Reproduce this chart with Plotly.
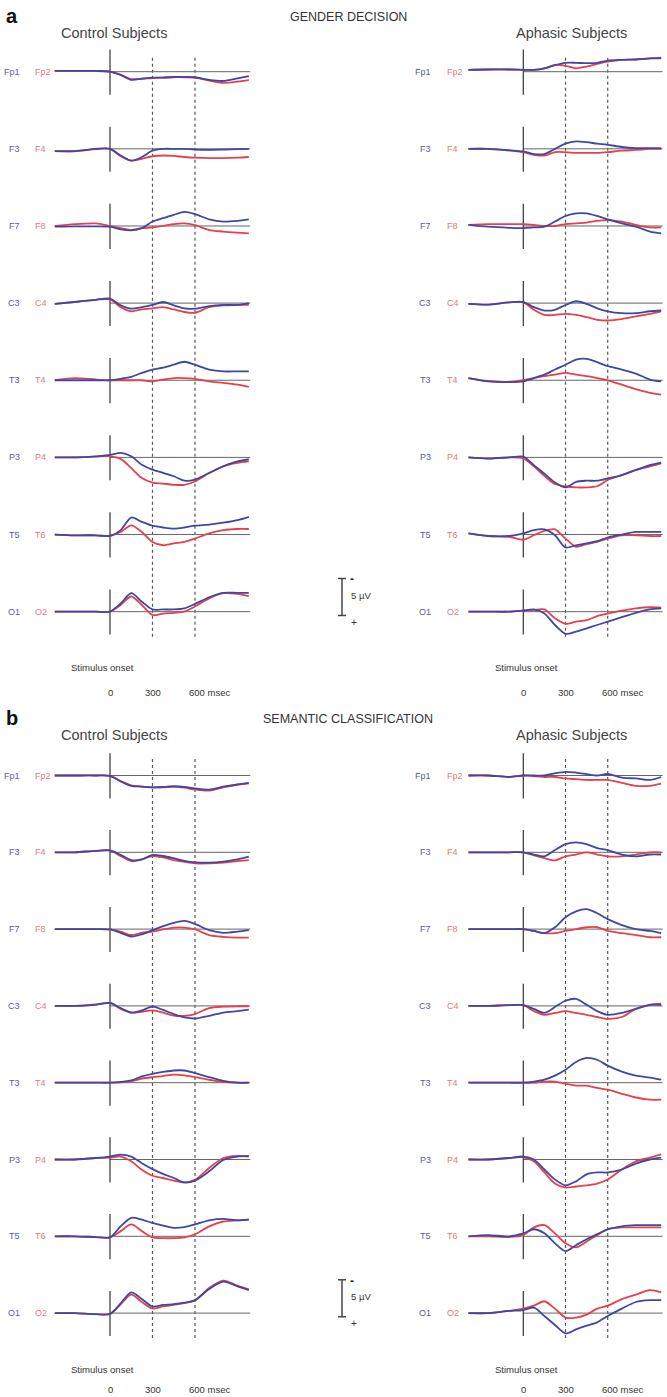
import plotly.graph_objects as go

W, H = 667, 1397

# ---------------- data ----------------
times = [-390, -250, -100, 0, 75, 150, 225, 300, 375, 450, 525, 600, 700, 800, 900, 980]
left_sites = ["Fp1", "F3", "F7", "C3", "T3", "P3", "T5", "O1"]
right_sites = ["Fp2", "F4", "F8", "C4", "T4", "P4", "T6", "O2"]
time_ticks = ["0", "300", "600 msec"]
tick_times = [0, 300, 600]

# values in microvolts (negative plotted upward)
gd_ctrl_left = [
    [-0.1, -0.1, -0.1, 0, 0.45, 1.1, 0.95, 0.8, 0.8, 0.7, 0.7, 0.75, 1.1, 1.25, 0.9, 0.6],
    [0.3, 0.3, 0, 0, 0.9, 1.6, 1.1, 0.25, 0, 0, 0, 0.1, 0.15, 0.1, 0.05, 0],
    [0.1, 0.05, 0.05, 0.1, 0.45, 0.6, 0.3, -0.6, -1.05, -1.5, -1.9, -1.6, -0.9, -0.6, -0.7, -0.9],
    [0.1, -0.15, -0.45, -0.6, 0.3, 0.75, 0.55, 0.25, -0.15, 0.3, 0.7, 0.75, 0.4, 0.25, 0.25, 0],
    [0, 0, 0, 0, -0.2, -0.45, -1.0, -1.45, -1.7, -2.1, -2.5, -2.1, -1.45, -1.2, -1.2, -1.2],
    [0, 0, -0.15, -0.35, -0.6, -0.15, 1.0, 1.65, 2.1, 2.55, 3.15, 3.0, 2.1, 1.2, 0.55, 0.25],
    [0, 0.1, 0.1, 0.2, -0.6, -2.3, -1.7, -1.2, -0.95, -0.8, -0.95, -1.2, -1.35, -1.6, -1.95, -2.4],
    [0, 0, 0, 0, -1.1, -2.5, -1.35, -0.3, -0.3, -0.3, -0.45, -1.05, -1.95, -2.55, -2.55, -2.55],
]
gd_ctrl_right = [
    [-0.1, -0.1, -0.1, 0, 0.4, 1.0, 0.95, 0.85, 0.8, 0.75, 0.75, 0.8, 1.2, 1.5, 1.35, 1.15],
    [0.3, 0.35, 0.05, 0, 1.0, 1.6, 1.35, 1.0, 0.9, 0.95, 1.1, 1.2, 1.25, 1.25, 1.2, 1.1],
    [0, -0.25, -0.35, 0, 0.3, 0.55, 0.3, 0.2, 0, -0.25, -0.35, -0.1, 0.55, 0.75, 0.9, 1.0],
    [0.1, -0.15, -0.45, -0.5, 0.55, 1.1, 0.85, 0.7, 0.55, 0.85, 1.2, 1.3, 0.55, 0.3, 0.25, 0.25],
    [0, -0.3, -0.1, 0, 0, 0, 0, 0.15, -0.1, -0.3, -0.3, -0.2, 0.15, 0.35, 0.6, 0.9],
    [0, 0, -0.1, -0.15, 0.2, 1.45, 2.8, 3.4, 3.55, 3.7, 3.7, 3.25, 2.1, 1.2, 0.75, 0.55],
    [0, 0.1, 0.1, 0.15, -0.35, -1.25, -0.35, 1.0, 1.45, 1.2, 1.0, 0.55, -0.15, -0.6, -0.75, -0.75],
    [0, 0, 0, 0, -0.9, -2.05, -0.9, 0.45, 0.25, 0.15, 0, -0.7, -1.8, -2.5, -2.4, -2.1],
]
gd_aph_left = [
    [-0.25, -0.3, -0.3, -0.25, -0.25, -0.45, -0.9, -1.2, -1.2, -1.15, -1.2, -1.5, -1.6, -1.65, -1.8, -1.8],
    [0, 0, 0.2, 0.35, 0.7, 0.7, 0, -0.7, -1.0, -0.9, -0.7, -0.55, -0.25, -0.1, -0.1, -0.1],
    [-0.15, 0.1, 0.25, 0.3, 0.2, 0.1, -0.6, -1.35, -1.7, -1.7, -1.35, -0.9, -0.35, 0.1, 0.75, 1.0],
    [0.1, 0.2, -0.1, -0.15, 0.55, 1.0, 0.9, 0.25, -0.25, 0.1, 0.7, 1.1, 1.35, 1.35, 1.1, 1.0],
    [-0.3, 0.15, 0.25, 0.15, -0.3, -0.75, -1.45, -2.1, -2.8, -2.9, -2.45, -1.9, -1.45, -0.9, -0.1, 0.15],
    [0, 0.15, 0, -0.1, 1.05, 2.2, 3.4, 4.05, 3.3, 3.15, 3.15, 2.85, 2.4, 1.7, 1.05, 0.7],
    [-0.15, 0.2, 0.2, -0.15, -0.6, -0.7, 0.1, 1.75, 1.45, 1.2, 0.9, 0.4, 0, -0.35, -0.35, -0.35],
    [0, 0, 0, -0.15, -0.3, 0.25, 1.8, 3.0, 2.7, 2.25, 1.8, 1.35, 0.75, 0.15, -0.3, -0.45],
]
gd_aph_right = [
    [-0.25, -0.3, -0.3, -0.25, -0.25, -0.45, -0.9, -0.8, -0.45, -0.7, -1.05, -1.35, -1.6, -1.65, -1.8, -1.9],
    [0, 0, 0.2, 0.45, 0.8, 0.9, 0.45, 0.45, 0.55, 0.55, 0.55, 0.45, 0.25, 0.15, 0, 0],
    [-0.15, -0.25, -0.25, -0.25, -0.15, 0, 0, -0.25, -0.35, -0.45, -0.7, -0.8, -0.6, -0.15, 0.2, 0.2],
    [0.1, 0.2, -0.1, -0.1, 0.9, 1.6, 1.6, 1.45, 1.6, 1.9, 2.25, 2.35, 2.15, 1.8, 1.45, 1.1],
    [-0.3, 0.1, 0.2, 0, -0.3, -0.55, -0.75, -1.0, -0.75, -0.55, -0.3, 0, 0.6, 1.2, 1.7, 1.95],
    [0, 0.15, 0, 0.15, 1.2, 2.5, 3.6, 3.9, 4.05, 4.05, 3.9, 3.05, 2.4, 1.7, 1.2, 0.8],
    [-0.15, 0.2, 0.3, 0.7, 0.1, -0.5, -0.7, 0.55, 1.65, 1.3, 1.0, 0.55, 0.1, 0.1, 0.2, 0.2],
    [0, 0, 0, -0.15, -0.25, -0.3, 0.9, 1.65, 1.35, 1.15, 0.6, 0.25, -0.15, -0.45, -0.6, -0.55],
]
sc_ctrl_left = [
    [0, 0, 0, 0.05, 0.8, 1.4, 1.5, 1.6, 1.55, 1.45, 1.55, 1.75, 1.9, 1.5, 1.2, 1.0],
    [0, 0, -0.2, -0.25, 0.35, 1.05, 0.95, 0.35, 0.5, 0.8, 1.15, 1.35, 1.4, 1.25, 0.95, 0.6],
    [0, 0, 0, 0.05, 0.5, 1.0, 0.7, 0.15, -0.4, -0.85, -1.1, -0.7, 0.15, 0.5, 0.35, 0.15],
    [0, 0, -0.15, -0.4, 0.3, 0.9, 0.6, 0.1, 0.55, 1.1, 1.55, 1.7, 1.35, 0.9, 0.7, 0.5],
    [0, 0, 0, 0, -0.1, -0.3, -0.85, -1.2, -1.45, -1.65, -1.65, -1.3, -0.75, -0.25, 0, 0],
    [0, 0, -0.2, -0.4, -0.65, -0.4, 0.5, 1.3, 1.95, 2.5, 3.1, 2.85, 1.6, 0.05, -0.4, -0.5],
    [0, 0, 0.1, 0.15, -1.35, -2.5, -2.25, -1.8, -1.45, -1.15, -1.25, -1.6, -2.15, -2.35, -2.15, -2.25],
    [0, 0, 0.15, 0.1, -1.3, -2.8, -1.9, -0.9, -1.1, -1.2, -1.4, -1.75, -3.25, -4.25, -3.6, -3.1],
]
sc_ctrl_right = [
    [0, 0, 0, 0.05, 0.75, 1.35, 1.5, 1.6, 1.6, 1.5, 1.65, 1.9, 2.05, 1.6, 1.25, 1.05],
    [0, 0, -0.2, -0.25, 0.5, 1.2, 0.95, 0.5, 0.7, 1.05, 1.3, 1.5, 1.5, 1.4, 1.2, 1.05],
    [0, 0, 0, 0.05, 0.35, 0.8, 0.5, 0.35, 0.05, -0.2, -0.2, 0.05, 0.8, 1.05, 1.15, 1.15],
    [0, 0, -0.2, -0.4, 0.4, 0.9, 0.8, 0.6, 0.9, 1.3, 1.35, 1.1, 0.3, 0.1, 0.05, 0.05],
    [0, 0, 0, 0, -0.05, -0.2, -0.55, -0.75, -0.9, -1.1, -1.0, -0.75, -0.4, -0.1, 0, 0],
    [0, 0, -0.2, -0.25, -0.4, 0.25, 1.4, 2.2, 2.5, 2.85, 3.1, 2.75, 1.15, -0.2, -0.5, -0.4],
    [0, 0, 0.1, 0.15, -0.7, -1.6, -0.7, 0.15, 0.25, 0.25, 0.15, -0.25, -1.35, -2.0, -2.15, -2.25],
    [0, 0, 0.15, 0.1, -1.2, -2.5, -1.5, -0.6, -0.9, -1.1, -1.35, -1.7, -3.4, -4.4, -3.7, -3.2],
]
sc_aph_left = [
    [0, 0, 0.2, 0, 0, 0, -0.3, -0.5, -0.4, -0.2, 0, -0.2, 0.3, 0.4, 0.6, 0.2],
    [0, 0, 0, 0, 0.3, 0.55, -0.3, -1.1, -1.35, -1.1, -0.55, -0.3, 0.3, 0.55, 0.3, 0.3],
    [0, 0, 0, 0, 0.25, 0.55, -0.25, -1.6, -2.4, -2.7, -2.15, -1.35, -0.55, 0, 0.25, 0.55],
    [0, 0, -0.1, -0.1, 0.4, 0.95, 0.15, -0.7, -0.95, -0.15, 0.7, 1.2, 0.95, 0.4, -0.15, -0.15],
    [0, 0, 0, 0, -0.15, -0.4, -0.95, -1.75, -2.8, -3.35, -3.1, -2.3, -1.5, -0.95, -0.7, -0.4],
    [0, 0, -0.2, -0.4, 0, 1.35, 2.7, 3.5, 2.95, 2.0, 1.75, 1.75, 1.35, 0.55, 0, -0.25],
    [0, -0.15, 0, -0.4, -0.95, -0.4, 0.95, 2.0, 1.2, 0.4, -0.3, -0.95, -1.35, -1.5, -1.5, -1.5],
    [0, 0, -0.3, -0.4, -0.75, 0.4, 1.6, 2.75, 2.2, 1.7, 1.25, 0.4, -0.6, -1.5, -1.75, -1.75],
]
sc_aph_right = [
    [0, 0, 0.2, 0, 0.1, 0.2, 0.2, 0.4, 0.5, 0.6, 0.6, 0.6, 1.0, 1.4, 1.4, 1.1],
    [0, 0, 0, 0, 0.4, 0.8, 1.1, 0.55, 0.3, 0, 0.3, 0.55, 0.55, 0.3, 0, 0],
    [0, 0, 0, 0, 0.25, 0.55, 0.55, 0.25, 0, -0.25, -0.25, 0.25, 0.55, 0.8, 1.1, 1.1],
    [0, 0, -0.1, -0.1, 0.7, 1.2, 0.95, 0.7, 0.95, 1.2, 1.5, 1.75, 1.5, 0.4, -0.15, -0.3],
    [0, 0, 0, 0, 0, -0.15, -0.15, 0.15, 0.4, 0.4, 0.7, 0.95, 1.5, 2.0, 2.3, 2.3],
    [0, 0, -0.2, -0.3, 0.25, 1.75, 3.25, 3.8, 3.65, 3.5, 3.25, 2.7, 1.35, 0.25, -0.25, -0.7],
    [0, 0, 0.1, -0.15, -1.2, -1.5, -0.4, 0.95, 1.5, 0.7, -0.15, -0.95, -1.2, -1.2, -1.2, -1.2],
    [0, 0, -0.3, -0.6, -1.0, -1.6, -0.6, 0.6, 0.6, 0.2, -0.6, -1.0, -1.9, -2.5, -3.1, -2.8],
]

scale_bar_uv = 5

# ---------------- layout helpers ----------------
BLUE = "#3f47a3"
RED = "#e5404c"
FONT = "Liberation Sans, Arial, sans-serif"

def px(x):
    return x / W

def py(y):
    return 1 - y / H

PX_PER_UV = 7.4
HALF_PX = 38
R = HALF_PX / PX_PER_UV

panels = [
    dict(key="a", title="GENDER DECISION", top=0, row0=71.7, step=77.14, msec=692,
         data=[(gd_ctrl_left, gd_ctrl_right), (gd_aph_left, gd_aph_right)]),
    dict(key="b", title="SEMANTIC CLASSIFICATION", top=702, row0=775.5, step=76.8, msec=1389,
         data=[(sc_ctrl_left, sc_ctrl_right), (sc_aph_left, sc_aph_right)]),
]
col_x = [dict(onset=110, ms=0.14167, lab_l=22, lab_r=33, title="Control Subjects", tcx=114, so=102),
         dict(onset=523.3, ms=0.1407, lab_l=433, lab_r=445, title="Aphasic Subjects", tcx=571, so=526)]

layout = dict(
    width=W, height=H, margin=dict(l=0, r=0, t=0, b=0),
    paper_bgcolor="white", plot_bgcolor="rgba(0,0,0,0)",
    showlegend=False, font=dict(family=FONT, color="#333"),
)
for ci, c in enumerate(col_x):
    name = "xaxis" if ci == 0 else "xaxis2"
    layout[name] = dict(domain=[px(c["onset"] - 400 * c["ms"]), px(c["onset"] + 1000 * c["ms"])],
                        range=[-400, 1000], visible=False, anchor="y", fixedrange=True)

fig = go.Figure()
shapes = []
annotations = []

yi = 0
for p in panels:
    rows_y = [p["row0"] + i * p["step"] for i in range(8)]
    for i, yb in enumerate(rows_y):
        yi += 1
        yname = "yaxis" if yi == 1 else f"yaxis{yi}"
        yref = "y" if yi == 1 else f"y{yi}"
        layout[yname] = dict(domain=[py(yb + HALF_PX), py(yb - HALF_PX)], range=[R, -R],
                             visible=False, anchor="x", fixedrange=True)
        for ci, c in enumerate(col_x):
            xref = "x" if ci == 0 else "x2"
            left_vals, right_vals = p["data"][ci]
            for vals, col, nm in ((right_vals[i], RED, right_sites[i]), (left_vals[i], BLUE, left_sites[i])):
                fig.add_trace(go.Scatter(x=times, y=vals, xaxis=xref, yaxis=yref, mode="lines",
                                         line=dict(color=col, width=1.8, shape="spline", smoothing=0.8),
                                         name=nm, hoverinfo="skip"))
            shapes.append(dict(type="line", xref=xref, yref=yref, x0=0, x1=990, y0=0, y1=0,
                               line=dict(color="#666", width=1), layer="below"))
            shapes.append(dict(type="line", xref=xref, yref=yref, x0=0, x1=0, y0=-3.0, y1=3.1,
                               line=dict(color="#333", width=1.2), layer="below"))
            annotations.append(dict(text=left_sites[i], xref="paper", yref=yref, x=px(c["lab_l"]), y=0,
                                    xanchor="right", yanchor="middle", showarrow=False,
                                    font=dict(size=9, color="#5a5aa0", family=FONT)))
            annotations.append(dict(text=right_sites[i], xref="paper", yref=yref, x=px(c["lab_r"]), y=0,
                                    xanchor="left", yanchor="middle", showarrow=False,
                                    font=dict(size=9, color="#e07a7a", family=FONT)))
        if i == 7:
            o1_ref = yref
    for ci in range(2):
        xref = "x" if ci == 0 else "x2"
        for t in (300, 600):
            shapes.append(dict(type="line", xref=xref, yref="paper", x0=t, x1=t,
                               y0=py(rows_y[-1] + 25), y1=py(rows_y[0] - 17),
                               line=dict(color="#555", width=1.2, dash="dot"), layer="below"))
    top = p["top"]
    annotations.append(dict(text=f"<b>{p['key']}</b>", xref="paper", yref="paper", x=px(4), y=py(top + 16),
                            xanchor="left", yanchor="middle", showarrow=False,
                            font=dict(size=20, color="#111", family=FONT)))
    annotations.append(dict(text=p["title"], xref="paper", yref="paper", x=px(348), y=py(top + 17),
                            xanchor="center", yanchor="middle", showarrow=False,
                            font=dict(size=12.5, color="#333", family=FONT)))
    for ci, c in enumerate(col_x):
        xref = "x" if ci == 0 else "x2"
        annotations.append(dict(text=c["title"], xref="paper", yref="paper", x=px(c["tcx"]), y=py(top + 33),
                                xanchor="center", yanchor="middle", showarrow=False,
                                font=dict(size=14.5, color="#444", family=FONT)))
        annotations.append(dict(text="Stimulus onset", xref="paper", yref="paper", x=px(c["so"]),
                                y=py(top + 667), xanchor="center", yanchor="middle", showarrow=False,
                                font=dict(size=9.5, color="#333", family=FONT)))
        for t, lab in zip(tick_times, time_ticks):
            if lab.endswith("msec"):
                annotations.append(dict(text=lab, xref=xref, yref="paper", x=t, y=py(p["msec"]),
                                        xanchor="left", xshift=-8, yanchor="middle", showarrow=False,
                                        font=dict(size=9.5, color="#333", family=FONT)))
            else:
                annotations.append(dict(text=lab, xref=xref, yref="paper", x=t, y=py(p["msec"]),
                                        xanchor="center", yanchor="middle", showarrow=False,
                                        font=dict(size=9.5, color="#333", family=FONT)))
    bx = 342
    y_top, y_bot = -(scale_bar_uv - 0.5), 0.5
    shapes.append(dict(type="line", xref="paper", yref=o1_ref, x0=px(bx), x1=px(bx), y0=y_top, y1=y_bot,
                       line=dict(color="#444", width=1.5)))
    for yy in (y_top, y_bot):
        shapes.append(dict(type="line", xref="paper", yref=o1_ref, x0=px(bx - 4), x1=px(bx + 4), y0=yy, y1=yy,
                           line=dict(color="#444", width=1.5)))
    annotations.append(dict(text="<b>-</b>", xref="paper", yref=o1_ref, x=px(bx + 6), y=y_top + 0.1,
                            xanchor="left", yanchor="middle", showarrow=False,
                            font=dict(size=12, color="#222", family=FONT)))
    annotations.append(dict(text="5 µV", xref="paper", yref=o1_ref, x=px(bx + 7), y=(y_top + y_bot) / 2 - 0.2,
                            xanchor="left", yanchor="middle", showarrow=False,
                            font=dict(size=9.5, color="#333", family=FONT)))
    annotations.append(dict(text="+", xref="paper", yref=o1_ref, x=px(bx + 7), y=y_bot + 0.9,
                            xanchor="left", yanchor="middle", showarrow=False,
                            font=dict(size=10, color="#333", family=FONT)))

layout["shapes"] = shapes
layout["annotations"] = annotations
fig.update_layout(**layout)
fig.write_html("out.html", config={"displayModeBar": False},
               post_script="document.body.style.margin='0';document.body.style.overflow='hidden';")
